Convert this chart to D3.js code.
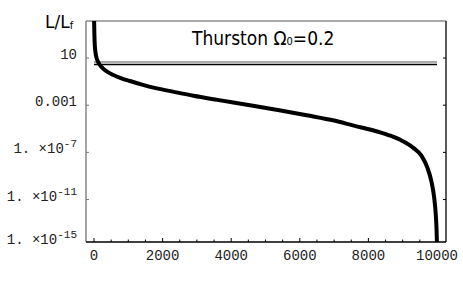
<!DOCTYPE html>
<html>
<head>
<meta charset="utf-8">
<script src="https://cdn.jsdelivr.net/npm/d3@7"></script>
<style>
  body { margin: 0; background: #fff; }
  svg { display: block; }
  .tick-label { font-family: "Liberation Mono", monospace; font-size: 14px; fill: #222; }
</style>
</head>
<body>
<svg id="chart" width="463" height="287"></svg>
<script>
// curve: x values and log10(L/Lf)
var xs   = [0, 12, 25, 40, 70, 110, 160, 250, 380, 550, 800, 1050, 1400, 1800, 2300, 2900, 3600, 4500, 5400, 6200, 7000, 7600, 8100, 8600, 9000, 9300, 9550, 9720, 9840, 9920, 9965, 9990, 10005];
var logL = [4.6, 2.9, 2.0, 1.55, 1.05, 0.72, 0.45, 0.15, -0.15, -0.42, -0.72, -0.95, -1.25, -1.55, -1.85, -2.2, -2.55, -2.98, -3.42, -3.85, -4.3, -4.75, -5.1, -5.55, -6.05, -6.6, -7.3, -8.3, -9.5, -10.9, -12.3, -13.8, -15.5];
// the two horizontal reference lines (log10 of L/Lf)
var hlineLog = [0.66, 0.45];
var hlineColor = ["#8c8c8c", "#000"];
var xTicks = [0, 2000, 4000, 6000, 8000, 10000];
var yTicks = [1, -3, -7, -11, -15];

var svg = d3.select("#chart");
var plotL = 86, plotR = 446, plotT = 21, plotB = 242;

var x = d3.scaleLinear().domain([0, 10000]).range([94, 437]);
var y = d3.scaleLinear().domain([-14.6, 4.14]).range([plotB, plotT]);

svg.append("defs").append("clipPath").attr("id", "clip")
  .append("rect").attr("x", plotL).attr("y", plotT)
  .attr("width", plotR - plotL).attr("height", plotB - plotT);

// frame: left/top grey, bottom/right black
svg.append("line").attr("x1", plotL).attr("x2", plotL).attr("y1", plotT).attr("y2", plotB)
  .attr("stroke", "#8c8c8c").attr("stroke-width", 1.6);
svg.append("line").attr("x1", plotL).attr("x2", plotR).attr("y1", plotT).attr("y2", plotT)
  .attr("stroke", "#8c8c8c").attr("stroke-width", 1.6);
svg.append("line").attr("x1", plotR).attr("x2", plotR).attr("y1", plotT).attr("y2", plotB)
  .attr("stroke", "#000").attr("stroke-width", 1.3);
svg.append("line").attr("x1", plotL).attr("x2", plotR).attr("y1", plotB).attr("y2", plotB)
  .attr("stroke", "#000").attr("stroke-width", 1.3);

// x minor/major ticks
var minor = d3.range(0, 10001, 500);
svg.selectAll(".xt").data(minor).enter().append("line")
  .attr("x1", function(d) { return x(d); }).attr("x2", function(d) { return x(d); })
  .attr("y1", plotB).attr("y2", function(d) { return d % 2000 == 0 ? plotB - 4 : plotB - 2.5; })
  .attr("stroke", "#000").attr("stroke-width", 1);

svg.selectAll(".xl").data(xTicks).enter().append("text")
  .attr("class", "tick-label")
  .attr("x", function(d) { return x(d); })
  .attr("y", 260)
  .attr("text-anchor", "middle")
  .text(function(d) { return d; });

// y ticks (inside, left grey, right black)
var yIn = yTicks.filter(function(d) { return y(d) < plotB; });
svg.selectAll(".ytl").data(yIn).enter().append("line")
  .attr("x1", plotL).attr("x2", plotL + 3)
  .attr("y1", function(d) { return y(d); }).attr("y2", function(d) { return y(d); })
  .attr("stroke", "#777").attr("stroke-width", 1);
svg.selectAll(".ytr").data(yIn).enter().append("line")
  .attr("x1", plotR).attr("x2", plotR - 3)
  .attr("y1", function(d) { return y(d); }).attr("y2", function(d) { return y(d); })
  .attr("stroke", "#000").attr("stroke-width", 1);

var yl = svg.selectAll(".yl").data(yTicks).enter().append("text")
  .attr("class", "tick-label")
  .attr("x", 77)
  .attr("y", function(d) { return Math.min(y(d), 243) + 1; })
  .attr("text-anchor", "end");
yl.each(function(d) {
  var t = d3.select(this);
  if (d == 1) t.text("10");
  else if (d == -3) t.text("0.001");
  else {
    t.append("tspan").text("1. \u00d710");
    t.append("tspan").attr("dy", -6).attr("font-size", 11).text(d);
  }
});

// reference lines
svg.selectAll(".hl").data(hlineLog).enter().append("line")
  .attr("x1", x(0)).attr("x2", x(10000))
  .attr("y1", function(d) { return y(d); }).attr("y2", function(d) { return y(d); })
  .attr("stroke", function(d, i) { return hlineColor[i]; })
  .attr("stroke-width", 1.4);

// curve
var pts = xs.map(function(d, i) { return [d, logL[i]]; });
var line = d3.line()
  .x(function(d) { return x(d[0]); })
  .y(function(d) { return y(d[1]); })
  .curve(d3.curveMonotoneX);
svg.append("path").datum(pts)
  .attr("clip-path", "url(#clip)")
  .attr("d", line)
  .attr("fill", "none")
  .attr("stroke", "#000")
  .attr("stroke-width", 4);

// title
var title = svg.append("text")
  .attr("x", 192).attr("y", 45)
  .attr("font-family", "DejaVu Sans Condensed, DejaVu Sans")
  .attr("font-size", 19)
  .attr("fill", "#000");
title.append("tspan").text("Thurston \u03a9");
title.append("tspan").attr("font-size", 11).text("0");
title.append("tspan").text("=0.2");

// axis label L/Lf
var yLab = svg.append("text")
  .attr("x", 45).attr("y", 28)
  .attr("font-family", "DejaVu Sans, sans-serif")
  .attr("font-size", 17)
  .attr("fill", "#000");
yLab.append("tspan").text("L/L");
yLab.append("tspan").attr("font-size", 10).attr("dy", 1).text("f");
</script>
</body>
</html>
